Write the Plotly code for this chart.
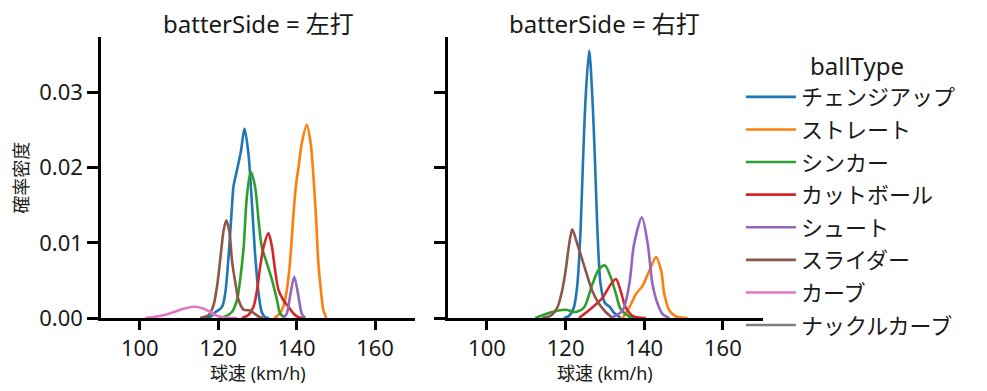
import plotly.graph_objects as go

FONT = "Noto Sans, Noto Sans CJK JP"

ball_types = ["チェンジアップ", "ストレート", "シンカー", "カットボール", "シュート", "スライダー", "カーブ", "ナックルカーブ"]
colors = ["#1f77b4", "#ff7f0e", "#2ca02c", "#d62728", "#9467bd", "#8c564b", "#e377c2", "#7f7f7f"]
panels = ["左打", "右打"]
x_ticks = [100, 120, 140, 160]
y_ticks = [0.0, 0.01, 0.02, 0.03]
y_tick_labels = ["0.00", "0.01", "0.02", "0.03"]

# ---- batterSide = 左打 ----
L_change_x = [116, 117.5, 118.4, 119.3, 120.2, 121.0, 121.8, 122.7, 123.5, 123.9, 124.8, 125.8, 126.7, 127.7, 128.6, 129.4, 130.3, 131.1, 132.0, 133.0]
L_change_y = [0.0, 0.0001, 0.0003, 0.0008, 0.0011, 0.0015, 0.0033, 0.0086, 0.0148, 0.0175, 0.0197, 0.0222, 0.0252, 0.0219, 0.0153, 0.0086, 0.0033, 0.0008, 0.0001, 0.0]
L_straight_x = [134.3, 135.4, 136.6, 137.5, 138.2, 138.8, 139.4, 139.9, 140.5, 141.3, 142.6, 143.6, 144.3, 145.0, 145.5, 146.2, 146.8, 147.6]
L_straight_y = [0.0, 0.0004, 0.0015, 0.0037, 0.0068, 0.0108, 0.0152, 0.0179, 0.0201, 0.0232, 0.0257, 0.0232, 0.0188, 0.0130, 0.0077, 0.0037, 0.0011, 0.0]
L_sinker_x = [120.2, 121.8, 123.5, 124.8, 125.6, 126.5, 127.3, 128.3, 129.4, 130.3, 131.1, 132.4, 133.7, 135.0, 135.8, 137.0]
L_sinker_y = [0.0, 0.0002, 0.0008, 0.0024, 0.0051, 0.0095, 0.0161, 0.0195, 0.0175, 0.0130, 0.0095, 0.0073, 0.0051, 0.0024, 0.0006, 0.0]
L_cutter_x = [126.0, 127.7, 129.0, 129.9, 130.7, 131.6, 132.8, 133.7, 134.5, 135.4, 136.6, 137.9, 139.2, 140.5, 141.8]
L_cutter_y = [0.0, 0.0004, 0.0015, 0.0037, 0.0068, 0.0095, 0.0113, 0.0095, 0.0064, 0.0037, 0.0024, 0.0015, 0.0006, 0.0001, 0.0]
L_shoot_x = [136.6, 137.5, 138.3, 139.4, 140.5, 141.3, 142.2]
L_shoot_y = [0.0, 0.0006, 0.0028, 0.0055, 0.0028, 0.0006, 0.0]
L_slider_x = [115.4, 117.6, 118.8, 119.7, 120.5, 121.4, 122.1, 122.9, 123.5, 124.4, 125.2, 126.5, 128.2, 129.0, 130.3, 131.5]
L_slider_y = [0.0, 0.0004, 0.0017, 0.0042, 0.0077, 0.0117, 0.0130, 0.0113, 0.0077, 0.0046, 0.0024, 0.0011, 0.0010, 0.0007, 0.0002, 0.0]
L_curve_x = [101.4, 104.4, 107.0, 108.7, 111.0, 113.7, 116.0, 118.0, 119.7, 121.2, 124.8]
L_curve_y = [0.0, 0.0002, 0.0005, 0.0008, 0.0012, 0.0015, 0.0013, 0.0008, 0.0003, 0.0001, 0.0]

# ---- batterSide = 右打 ----
R_change_x = [119.6, 120.9, 122.1, 123.0, 123.8, 124.4, 125.1, 126.0, 126.8, 127.5, 128.1, 128.9, 130.0, 131.2, 132.3, 132.8, 134.0]
R_change_y = [0.0, 0.0003, 0.0014, 0.0045, 0.0116, 0.0205, 0.0294, 0.0356, 0.0294, 0.0205, 0.0116, 0.0045, 0.0020, 0.0015, 0.0007, 0.0005, 0.0]
R_straight_x = [134.5, 136.2, 137.9, 139.6, 141.3, 143.0, 144.3, 145.1, 146.4, 148.1, 151.0]
R_straight_y = [0.0, 0.0014, 0.0032, 0.0043, 0.0063, 0.0081, 0.0063, 0.0032, 0.0010, 0.0002, 0.0]
R_sinker_x = [112.3, 116.6, 120.0, 122.6, 124.7, 126.8, 128.5, 130.0, 131.5, 132.8, 134.0, 136.2, 137.9]
R_sinker_y = [0.0, 0.0008, 0.0011, 0.0008, 0.0014, 0.0045, 0.0065, 0.0070, 0.0054, 0.0032, 0.0012, 0.0002, 0.0]
R_cutter_x = [123.4, 126.8, 129.4, 131.5, 132.8, 134.0, 135.3, 137.0, 140.4]
R_cutter_y = [0.0, 0.0014, 0.0027, 0.0045, 0.0052, 0.0036, 0.0014, 0.0003, 0.0]
R_shoot_x = [131.5, 134.5, 136.2, 137.4, 139.4, 140.9, 142.1, 143.4, 144.7, 146.4]
R_shoot_y = [0.0, 0.0010, 0.0045, 0.0098, 0.0134, 0.0098, 0.0045, 0.0019, 0.0005, 0.0]
R_slider_x = [114.0, 116.2, 117.9, 119.1, 120.0, 120.9, 121.7, 123.0, 123.8, 125.1, 126.8, 128.5, 130.2, 131.9]
R_slider_y = [0.0, 0.0003, 0.0014, 0.0036, 0.0063, 0.0098, 0.0118, 0.0098, 0.0085, 0.0063, 0.0036, 0.0019, 0.0008, 0.0]

left_series = {
    "チェンジアップ": (L_change_x, L_change_y),
    "ストレート": (L_straight_x, L_straight_y),
    "シンカー": (L_sinker_x, L_sinker_y),
    "カットボール": (L_cutter_x, L_cutter_y),
    "シュート": (L_shoot_x, L_shoot_y),
    "スライダー": (L_slider_x, L_slider_y),
    "カーブ": (L_curve_x, L_curve_y),
}
right_series = {
    "チェンジアップ": (R_change_x, R_change_y),
    "ストレート": (R_straight_x, R_straight_y),
    "シンカー": (R_sinker_x, R_sinker_y),
    "カットボール": (R_cutter_x, R_cutter_y),
    "シュート": (R_shoot_x, R_shoot_y),
    "スライダー": (R_slider_x, R_slider_y),
}

fig = go.Figure()
for name, color in zip(ball_types, colors):
    for i, series in enumerate([left_series, right_series]):
        ax = "" if i == 0 else "2"
        if name in series:
            xs, ys = series[name]
        else:
            xs, ys = [None], [None]
        fig.add_trace(go.Scatter(
            x=xs, y=ys, mode="lines", name=name,
            line=dict(color=color, width=2.6, shape="spline", smoothing=0.8),
            xaxis="x" + ax, yaxis="y" + ax,
            legendgroup=name, showlegend=(i == 0),
            hoverinfo="skip",
        ))

TXT = "#1a1a1a"
axis_common = dict(
    range=[90.1, 170.2], tickvals=x_ticks, showgrid=False, zeroline=False,
    showline=True, linecolor="black", linewidth=2.5, ticks="outside",
    ticklen=9, tickwidth=2.5, tickcolor="black",
    tickfont=dict(size=22, color=TXT, family=FONT),
)
yaxis_common = dict(
    range=[0, 0.0374], tickvals=y_ticks, showgrid=False, zeroline=False,
    showline=True, linecolor="black", linewidth=2.5, ticks="outside",
    ticklen=11, tickwidth=2.5, tickcolor="black",
    tickfont=dict(size=22, color=TXT, family=FONT),
)

def ann(text, x, y, size, xanchor="center", angle=0):
    return dict(text=text, x=x, y=y, xref="paper", yref="paper", showarrow=False,
                xanchor=xanchor, yanchor="middle", textangle=angle,
                font=dict(size=size, color=TXT, family=FONT))

fig.update_layout(
    width=987, height=391,
    margin=dict(l=93, r=232, t=29, b=81, autoexpand=False),
    paper_bgcolor="white", plot_bgcolor="white",
    font=dict(family=FONT, color=TXT),
    xaxis=dict(domain=[0, 0.4743], **axis_common),
    xaxis2=dict(domain=[0.5242, 1], **axis_common),
    yaxis=dict(anchor="x", ticktext=y_tick_labels, **yaxis_common),
    yaxis2=dict(anchor="x2", showticklabels=False, **yaxis_common),
    legend=dict(
        x=0.9666, xanchor="left", y=0.861, yanchor="top",
        font=dict(size=22, color=TXT, family=FONT),
        tracegroupgap=1, itemwidth=50, bgcolor="rgba(0,0,0,0)",
    ),
    annotations=[
        ann("batterSide = " + panels[0], 0.2372, 1.0498, 24),
        ann("batterSide = " + panels[1], 0.761, 1.0498, 24),
        ann("ballType", 1.068, 0.900, 24, xanchor="left"),
        ann("球速 (km/h)", 0.2372, -0.194, 18),
        ann("球速 (km/h)", 0.761, -0.194, 18),
        ann("確率密度", -0.122, 0.5, 18, angle=-90),
    ],
)

fig.write_html("out.html")
